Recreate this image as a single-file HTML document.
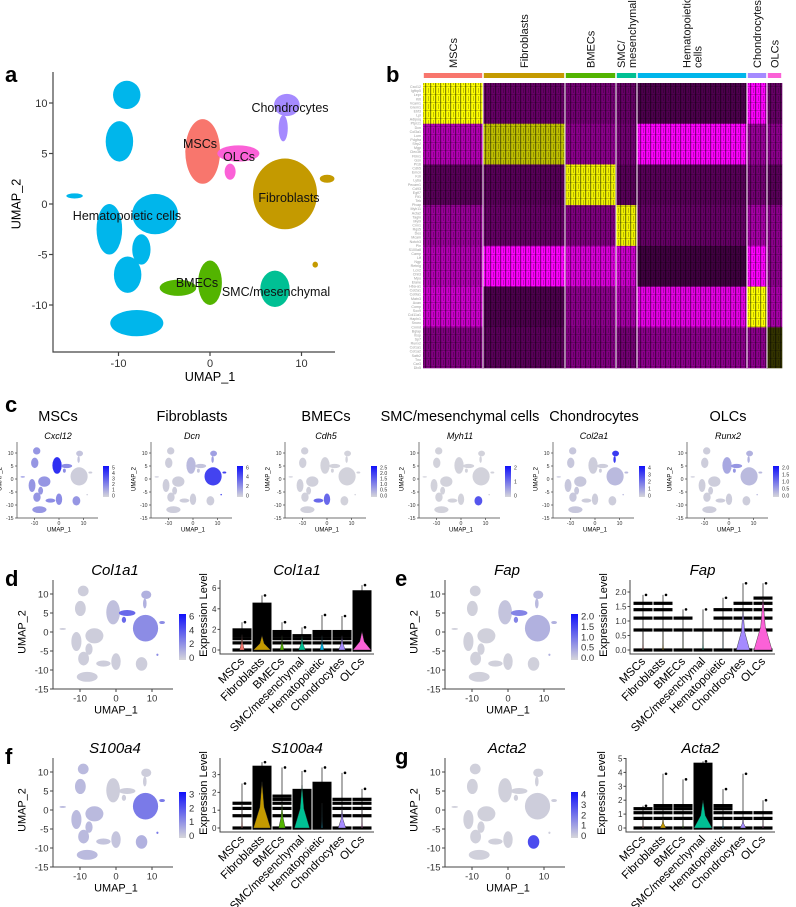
<!DOCTYPE html>
<html><head><meta charset="utf-8">
<style>
html,body{margin:0;padding:0;background:#fff;}
svg{display:block;font-family:"Liberation Sans",Arial,sans-serif;}
</style></head>
<body>
<svg id="fig" width="796" height="907" viewBox="0 0 796 907" xmlns="http://www.w3.org/2000/svg">
<defs>
<pattern id="stripes" width="5" height="8" patternUnits="userSpaceOnUse">
<rect x="0" y="0" width="1.2" height="8" fill="#000" opacity="0.45"/>
<rect x="3" y="0" width="0.8" height="5" fill="#000" opacity="0.3"/>
<rect x="0" y="6" width="5" height="1" fill="#000" opacity="0.2"/>
</pattern>
</defs>
</svg>
<script>
// ---------- DATA ----------
const clusterNames = ["MSCs","Fibroblasts","BMECs","SMC/mesenchymal","Hematopoietic","Chondrocytes","OLCs"];
const clusterColors = ["#F8766D","#C49A00","#53B400","#00C094","#00B6EB","#A58AFF","#FB61D7"];
// UMAP blobs: [x, y, rx, ry, cluster]
const blobX = [-9.1,-9.9,-11,-6,-9,-7.5,-8,-14.8,-0.8,3.1,2.2,8.4,8,8.2,12.8,-3.5,0,7.1,11.5];
const blobY = [10.8,6.2,-2.5,-1,-7,-4.5,-11.8,0.8,5.2,5,3.2,9.8,7.5,1,2.5,-8.3,-7.8,-8.4,-6];
const blobRX = [1.5,1.5,1.4,2.5,1.5,1,2.9,0.9,1.9,2.3,0.6,1.4,0.5,3.5,0.8,2,1.3,1.6,0.3];
const blobRY = [1.4,2,2.5,2,1.8,1.5,1.3,0.25,3.2,0.8,0.8,1.1,1.3,3.5,0.4,0.8,2.2,1.8,0.3];
const blobC = [4,4,4,4,4,4,4,4,0,6,6,5,5,1,1,2,2,3,1];
// heatmap
const hmCellCounts = [60,82,51,21,110,20,15];
const hmGeneCounts = [10,10,10,10,10,10,10];
const hmValues = [
 [1,-0.4,-0.45,-0.4,-0.3,-1,-0.4],
 [-0.7,0.75,-0.55,-0.45,-1,-0.6,-0.55],
 [-0.35,-0.35,0.95,-0.35,-0.35,-0.45,-0.35],
 [-0.6,-0.4,-0.5,0.95,-0.4,-0.65,-0.55],
 [-0.7,-1,-0.85,-0.8,-0.25,-1,-0.55],
 [-0.8,-0.3,-0.55,-0.65,-0.9,1,-0.65],
 [-0.5,-0.35,-0.5,-0.45,-0.55,-0.55,0.2]
];
const geneLabels = ["Cxcl12","Igfbp5","Lepr","Kitl","Vcam1","Grem1","Ebf3","Lpl","Adipoq","Ptprz1","Dcn","Col3a1","Lum","Pdgfra","Sfrp2","Mgp","Clec3b","Fbln1","Gsn","Pi16","Cdh5","Emcn","Kdr","Ly6a","Pecam1","Cd93","Egfl7","Flt1","Tek","Plvap","Myh11","Acta2","Tagln","Myl9","Cnn1","Rgs5","Des","Mcam","Notch3","Pln","S100a8","Camp","Ltf","Ngp","Retnlg","Lcn2","Chil3","Mpo","Elane","Hba-a1","Col2a1","Col9a1","Matn3","Acan","Comp","Sox9","Col11a1","Hapln1","Snorc","Cnmd","Bglap","Ibsp","Sp7","Runx2","Col1a1","Col1a2","Satb2","Tnc","Car3","Dlx5"];
// feature plots: expression per cluster (0..1)
const cGenes = ["Cxcl12","Dcn","Cdh5","Myh11","Col2a1","Runx2"];
const cTitles = ["MSCs","Fibroblasts","BMECs","SMC/mesenchymal cells","Chondrocytes","OLCs"];
const cExpr = [
 [0.9,0.05,0.4,0.35,0.35,0.1,0.4],
 [0.15,0.8,0.05,0.05,0.05,0.3,0.1],
 [0.02,0.02,0.6,0.02,0.03,0.02,0.02],
 [0.02,0.02,0.02,0.7,0.02,0.02,0.02],
 [0.05,0.15,0.05,0.05,0.08,0.85,0.05],
 [0.25,0.15,0.05,0.05,0.05,0.2,0.35]
];
const cLegendTicks = [["5","4","3","2","1","0"],["6","4","2","0"],["2.5","2.0","1.5","1.0","0.5","0.0"],["2","1","0"],["4","3","2","1","0"],["2.0","1.5","1.0","0.5","0.0"]];
const dGenes = ["Col1a1","Fap","S100a4","Acta2"];
const dExpr = [
 [0.12,0.4,0.05,0.05,0.05,0.2,0.6],
 [0.1,0.2,0.03,0.03,0.03,0.15,0.45],
 [0.05,0.5,0.1,0.2,0.15,0.05,0.05],
 [0.03,0.05,0.03,0.75,0.03,0.03,0.03]
];
const dLegendTicks = [["6","4","2","0"],["2.0","1.5","1.0","0.5","0.0"],["3","2","1","0"],["4","3","2","1","0"]];
// violin data
const vTicks = [[0,2,4,6],[0,0.5,1,1.5,2],[0,1,2,3],[0,1,2,3,4,5]];
const vTickLabels = [["0","2","4","6"],["0.0","0.5","1.0","1.5","2.0"],["0","1","2","3"],["0","1","2","3","4","5"]];
const vLevels = [0,0.69,1.1,1.39,1.61,1.79,1.95];
const vBandTop = [[1.95,1.95,1.8,1.6,1.8,1.8,1.95],[1.61,1.61,1.1,0.69,1.39,1.61,1.79],[1.39,1.8,1.8,1.95,1.95,1.61,1.61],[1.39,1.61,1.61,1.61,1.61,1.1,1.1]];
const vSolidTop = [[0,4.6,0,0,0,0,5.8],[0,0,0,0,0,0,0],[0,3.5,0,2.2,2.6,0,0],[0,0,0,4.7,0,0,0]];
const vMax = [[2.7,5.3,2.7,2.2,3.4,3.3,6.3],[1.9,1.9,1.4,1.4,1.8,2.3,2.3],[2.5,3.7,3.4,3.2,3.4,3.1,2.2],[1.6,3.9,3.5,4.8,2.8,3.9,2.0]];
const vWidth = [[0.25,0.9,0.2,0.35,0.2,0.35,0.95],[0.05,0.05,0.02,0.05,0.02,0.7,0.95],[0.05,0.9,0.35,0.8,0.05,0.4,0.05],[0.05,0.3,0.05,0.95,0.05,0.3,0.05]];
const vTopShape = [[1.5,1.4,1.4,1.4,1.4,1.4,1.8],[0.7,0.7,0.7,0.7,0.7,1.4,1.8],[1.4,2.6,1.4,2.4,1.4,1.1,1.1],[0.7,0.7,0.7,2.0,0.7,0.7,0.7]];

// ---------- HELPERS ----------
const NS="http://www.w3.org/2000/svg";
const svg=document.getElementById('fig');
function mk(tag,attrs,parent){const e=document.createElementNS(NS,tag);for(const k in attrs)e.setAttribute(k,attrs[k]);(parent||svg).appendChild(e);return e;}
function txt(s,attrs,parent){const e=mk('text',attrs,parent);e.textContent=s;return e;}
function lerp(a,b,t){return a+(b-a)*t;}
function featColor(t){
  const r=Math.round(lerp(214,30,t)),g=Math.round(lerp(214,30,t)),b=Math.round(lerp(218,245,t));
  return `rgb(${r},${g},${b})`;
}
function hmColor(v){
  if(v<0){const t=-v;return `rgb(${Math.round(255*t)},0,${Math.round(255*t)})`;}
  return `rgb(${Math.round(255*v)},${Math.round(255*v)},0)`;
}

// panel letters
[["a",5,82],["b",386,82],["c",5,412],["d",5,586],["e",395,586],["f",5,764],["g",395,764]].forEach(p=>{
  const t=txt(p[0],{x:p[1],y:p[2],'font-size':22,'font-weight':'bold',fill:'#000'});
  
  
});

// ---------- UMAP ----------
function drawUmap(o){
  const g=mk('g',{});
  
  
  const X=v=>o.ox+o.sx*v, Y=v=>o.oy-o.sy*v;
  for(let i=0;i<blobX.length;i++){
    const c=blobC[i];
    const fill=o.expr?featColor(o.expr[c]):clusterColors[c];
    const e=mk('ellipse',{cx:X(blobX[i]),cy:Y(blobY[i]),rx:o.sx*blobRX[i],ry:o.sy*blobRY[i],fill:fill},g);
    
    
  }
  const ax=mk('path',{d:`M${o.axX},${o.top} V${o.axY} H${o.right}`,stroke:'#444',fill:'none','stroke-width':o.lw},g);
  
  
  o.yt.forEach(v=>{
    mk('line',{x1:o.axX-o.tl,x2:o.axX,y1:Y(v),y2:Y(v),stroke:'#444','stroke-width':o.lw},g);
    const t=txt(String(v),{x:o.axX-o.tl-1.5,y:Y(v)+o.fs*0.35,'font-size':o.fs,'text-anchor':'end',fill:'#333'},g);
    
    
  });
  [-10,0,10].forEach(v=>{
    mk('line',{x1:X(v),x2:X(v),y1:o.axY,y2:o.axY+o.tl,stroke:'#444','stroke-width':o.lw},g);
    const t=txt(String(v),{x:X(v),y:o.axY+o.tl+o.fs,'font-size':o.fs,'text-anchor':'middle',fill:'#333'},g);
    
    
  });
  const xl=txt('UMAP_1',{x:X(0),y:o.axY+o.tl+o.fs*2.25,'font-size':o.fs*1.15,'text-anchor':'middle',fill:'#000'},g);
  
  
  const yx=o.axX-o.tl-o.fs*2.6, yy=Y(0);
  const yl=txt('UMAP_2',{x:yx,y:yy,'font-size':o.fs*1.15,'text-anchor':'middle',fill:'#000',transform:`rotate(-90 ${yx} ${yy})`},g);
  
  
  if(o.legend){
    const L=o.legend;
    const gid='grad'+o.name;
    const defs=mk('defs',{},g);
    const lg=mk('linearGradient',{id:gid,x1:0,y1:1,x2:0,y2:0},defs);
    mk('stop',{offset:0,'stop-color':'#D6D6DA'},lg);
    mk('stop',{offset:1,'stop-color':'#1010FA'},lg);
    const r=mk('rect',{x:L.x,y:L.y,width:L.w,height:L.h,fill:`url(#${gid})`},g);
    
    
    L.ticks.forEach((s,i)=>{
      const ty=L.y+L.h*0.05+ (L.h*0.9)*i/(L.ticks.length-1);
      const t=txt(s,{x:L.x+L.w+3,y:ty+L.fs*0.35,'font-size':L.fs,fill:'#333'},g);
      
      
    });
  }
  return g;
}

// Panel a
drawUmap({name:'umap-clusters-a',ox:210,oy:204,sx:9.15,sy:10.1,axX:53,axY:352,top:72,right:335,yt:[10,5,0,-5,-10],fs:11,tl:4,lw:1.2});
[["Chondrocytes",290,112],["MSCs",200,148],["OLCs",239,161],["Fibroblasts",289,202],["Hematopoietic cells",127,220],["BMECs",197,287],["SMC/mesenchymal",276,296]].forEach(l=>{
  const t=txt(l[0],{x:l[1],y:l[2],'font-size':12.5,'text-anchor':'middle',fill:'#111'});
  
  
});

// ---------- Panel b heatmap ----------
(function(){
  const g=mk('g',{});
  
  
  const x0=423,x1=782,y0=83,y1=368;
  const totC=hmCellCounts.reduce((a,b)=>a+b,0), totG=hmGeneCounts.reduce((a,b)=>a+b,0);
  let cx=x0; const colX=[];
  hmCellCounts.forEach(n=>{const w=(x1-x0)*n/totC;colX.push([cx,w]);cx+=w;});
  let cy=y0; const rowY=[];
  hmGeneCounts.forEach(n=>{const h=(y1-y0)*n/totG;rowY.push([cy,h]);cy+=h;});
  rowY.forEach((r,ri)=>{
    colX.forEach((c,ci)=>{
      const e=mk('rect',{x:c[0],y:r[0],width:c[1]+0.3,height:r[1]+0.3,fill:hmColor(hmValues[ri][ci])},g);
      
      
    });
  });
  const tex=mk('rect',{x:x0,y:y0,width:x1-x0,height:y1-y0,fill:'url(#stripes)'},g);
  
  
  colX.forEach((c,ci)=>{
    if(ci>0){const s=mk('line',{x1:c[0],x2:c[0],y1:y0,y2:y1,stroke:'#fff','stroke-width':1},g);
      }
    const b=mk('rect',{x:c[0]+0.8,y:73,width:c[1]-1.6,height:5,fill:clusterColors[ci]},g);
    
    
  });
  const labs=[["MSCs"],["Fibroblasts"],["BMECs"],["SMC/","mesenchymal"],["Hematopoietic","cells"],["Chondrocytes"],["OLCs"]];
  labs.forEach((ls,ci)=>{
    const mid=colX[ci][0]+colX[ci][1]/2;
    ls.forEach((s,k)=>{
      const xx=mid+(k-(ls.length-1)/2)*11+4, yy=68;
      const t=txt(s,{x:xx,y:yy,'font-size':11,fill:'#111',transform:`rotate(-90 ${xx} ${yy})`},g);
      
      
    });
  });
  geneLabels.forEach((s,i)=>{
    const t=txt(s,{x:421,y:y0+3+(y1-y0)*(i+0.5)/geneLabels.length,'font-size':3.6,'text-anchor':'end',fill:'#999'},g);
    
    
  });
})();

// ---------- Panel c ----------
cGenes.forEach((gn,i)=>{
  const off=134*i;
  const t=txt(cTitles[i],{x:58+off,y:421,'font-size':14.5,'text-anchor':'middle',fill:'#000'});
  
  
  const s=txt(gn,{x:58+off,y:439,'font-size':9,'font-style':'italic','text-anchor':'middle',fill:'#000'});
  
  
  drawUmap({name:'feature-umap-'+gn.toLowerCase(),ox:59+off,oy:479,sx:2.45,sy:2.6,axX:17+off,axY:518,top:442,right:98+off,yt:[10,5,0,-5,-10,-15],fs:5.2,tl:2,lw:0.7,expr:cExpr[i],
    legend:{x:103+off,y:466,w:6,h:31,fs:5.2,ticks:cLegendTicks[i]}});
});

// ---------- Panels d-g ----------
const rows=[{ax:53,oy:632,axY:689,top:580,title:575},{ax:445,oy:632,axY:689,top:580,title:575},{ax:53,oy:810,axY:867,top:758,title:753},{ax:445,oy:810,axY:867,top:758,title:753}];
const vio=[{ax:220,first:242,ex:207,y0:650,sc:10.3,top:580},{ax:630,first:643,ex:607,y0:650,sc:29,top:580},{ax:220,first:242,ex:207,y0:828,sc:17.8,top:758},{ax:626,first:643,ex:605,y0:828,sc:13.9,top:758}];
dGenes.forEach((gn,i)=>{
  const r=rows[i];
  const t=txt(gn,{x:r.ax+62,y:r.title,'font-size':15,'font-style':'italic','text-anchor':'middle',fill:'#000'});
  
  
  drawUmap({name:'feature-umap-'+gn.toLowerCase(),ox:r.ax+63,oy:r.oy,sx:3.6,sy:3.8,axX:r.ax,axY:r.axY,top:r.top,right:r.ax+120,yt:[10,5,0,-5,-10,-15],fs:9.5,tl:3,lw:1,expr:dExpr[i],
    legend:{x:r.ax+126,y:r.oy-18,w:7,h:46,fs:9.5,ticks:dLegendTicks[i]}});
  // violin
  const v=vio[i];
  const g=mk('g',{});
  
  
  const right=v.first+20*6+12;
  const Y=val=>v.y0-v.sc*val;
  const CX=k=>v.first+20*k;
  const vt=txt(gn,{x:(v.ax+right)/2,y:r.title,'font-size':15,'font-style':'italic','text-anchor':'middle',fill:'#000'},g);
  
  
  for(let k=0;k<7;k++){
    const x=CX(k);
    const ln=mk('line',{x1:x,x2:x,y1:Y(0),y2:Y(vMax[i][k]),stroke:'#333','stroke-width':0.8},g);
    
    
    vLevels.forEach(lv=>{
      if(lv<=vBandTop[i][k]){
        const b=mk('rect',{x:x-9.5,y:Y(lv)-1.6,width:19,height:3.2,fill:'#000'},g);
        
        
      }
    });
    if(vSolidTop[i][k]>0){
      const b=mk('rect',{x:x-9.5,y:Y(vSolidTop[i][k]),width:19,height:Y(0)-Y(vSolidTop[i][k])+1.6,fill:'#000'},g);
      
      
    }
    const hw=9.5*vWidth[i][k], tp=Y(vTopShape[i][k]), mid=Y(vTopShape[i][k]*0.45);
    const p=mk('path',{d:`M${x-hw},${Y(0)} L${x-hw*0.25},${mid} L${x},${tp} L${x+hw*0.25},${mid} L${x+hw},${Y(0)} Z`,fill:clusterColors[k],stroke:'#222','stroke-width':0.4},g);
    
    
    const d=mk('circle',{cx:x+3,cy:Y(vMax[i][k]),r:1.3,fill:'#000'},g);
    
    
    const lx=x+3, ly=v.y0+12;
    const lt=txt(clusterNames[k],{x:lx,y:ly,'font-size':11.5,'text-anchor':'end',fill:'#000',transform:`rotate(-45 ${lx} ${ly})`},g);
    
    
  }
  const axp=mk('path',{d:`M${v.ax},${v.top} V${v.y0+4} H${right}`,stroke:'#444',fill:'none','stroke-width':1},g);
  
  
  vTicks[i].forEach((tv,j)=>{
    mk('line',{x1:v.ax-2.5,x2:v.ax,y1:Y(tv),y2:Y(tv),stroke:'#444'},g);
    const tl=txt(vTickLabels[i][j],{x:v.ax-3.5,y:Y(tv)+3,'font-size':8,'text-anchor':'end',fill:'#333'},g);
    
    
  });
  const ex=v.ex, ey=v.top+35;
  const et=txt('Expression Level',{x:ex,y:ey,'font-size':11,'text-anchor':'middle',fill:'#000',transform:`rotate(-90 ${ex} ${ey})`},g);
  
  
});
</script>
</body></html>
